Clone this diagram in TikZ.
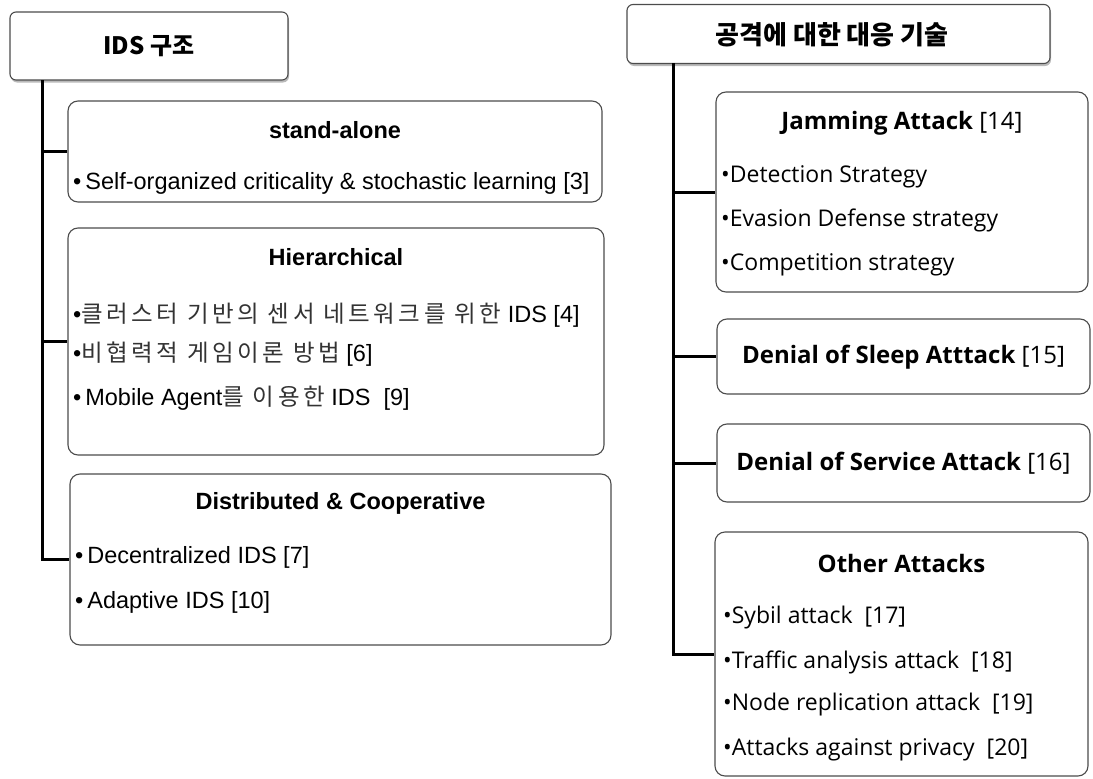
\documentclass[tikz,border=0pt]{standalone}
\usepackage{fontspec}
\setmainfont{Liberation Sans}
\newfontfamily\kr{Noto Sans CJK KR}
\newfontfamily\krs[LetterSpace=15]{Noto Sans CJK KR}
\newfontfamily\seg{Open Sans}
\usetikzlibrary{shadows}
\newcommand{\hk}[1]{{\krs\color{black!80}#1}}
\begin{document}
\begin{tikzpicture}[x=1pt,y=-1pt,
  box/.style={draw=black!70, line width=1.1pt, rounded corners=10pt, fill=white, inner sep=0pt},
  titlebox/.style={box, rounded corners=6pt, drop shadow={shadow xshift=1pt, shadow yshift=-2.5pt, opacity=0.45, fill=black!60}},
  conn/.style={draw=black, line width=3pt},
  lt/.style={font=\fontsize{23.5}{27}\selectfont\bfseries, inner sep=0pt},
  li/.style={font=\fontsize{23.5}{27}\selectfont, inner sep=0pt, anchor=west},
  rt/.style={font=\seg\fontsize{24}{28}\selectfont\bfseries, inner sep=0pt},
  ri/.style={font=\seg\fontsize{23}{27}\selectfont, inner sep=0pt, anchor=west}
]
\useasboundingbox (0,0) rectangle (1093,779);

% ---------- left column ----------
\node[titlebox, minimum width=278pt, minimum height=68pt] (tL) at (149,46) {};
\node[font=\kr\fontsize{24}{28}\selectfont\bfseries, inner sep=0pt] (tLt) at (149,46) {IDS 구조};

\node[box, minimum width=534pt, minimum height=101pt] (sa) at (335,151.5) {};
\node[lt] (saT) at (335,130) {stand-alone};
\node[li] (sa1) at (73,183) {•\,Self-organized criticality \& stochastic learning [3]};

\node[box, minimum width=536pt, minimum height=227pt] (hi) at (336,341.5) {};
\node[lt] (hiT) at (336,257) {Hierarchical};
\node[li] (hi1) at (73,315) {•\hk{클러스터 기반의 센서 네트워크를 위한} IDS [4]};
\node[li] (hi2) at (73,354) {•\hk{비협력적 게임이론 방법} [6]};
\node[li] (hi3) at (73,398) {•\,Mobile Agent\hk{를 이용한} IDS\ \ [9]};

\node[box, minimum width=541pt, minimum height=171pt] (di) at (340.5,559.5) {};
\node[lt] (diT) at (340.5,503) {Distributed \& Cooperative};
\node[li] (di1) at (75,557) {•\,Decentralized IDS [7]};
\node[li] (di2) at (75,602) {•\,Adaptive IDS [10]};

\coordinate (lv0) at (42,80);
\draw[conn] (lv0) |- (di.west);
\draw[conn] (sa.west -| lv0) -- (sa.west);
\draw[conn] (hi.west -| lv0) -- (hi.west);

% ---------- right column ----------
\node[titlebox, minimum width=423pt, minimum height=59pt] (tR) at (838.5,34) {};
\node[font=\kr\fontsize{26}{30}\selectfont\bfseries, inner sep=0pt] (tRt) at (832,35) {공격에 대한 대응 기술};

\node[box, minimum width=372pt, minimum height=200pt] (ja) at (902,192) {};
\node[rt] (jaT) at (902,123) {Jamming Attack {\mdseries [14]}};
\node[ri] (ja1) at (721,177) {•Detection Strategy};
\node[ri] (ja2) at (721,220) {•Evasion Defense strategy};
\node[ri] (ja3) at (721,265) {•Competition strategy};

\node[box, minimum width=373pt, minimum height=75pt] (sl) at (903.5,356.5) {};
\node[rt] (slT) at (903.5,357) {Denial of Sleep Atttack {\mdseries [15]}};

\node[box, minimum width=373pt, minimum height=78pt] (sv) at (903.5,463) {};
\node[rt] (svT) at (903.5,463) {Denial of Service Attack {\mdseries [16]}};

\node[box, minimum width=373pt, minimum height=244pt] (ot) at (901.5,654) {};
\node[rt] (otT) at (901.5,563) {Other Attacks};
\node[ri] (ot1) at (723,618) {•Sybil attack\ \ [17]};
\node[ri] (ot2) at (723,662) {•Traffic analysis attack\ \ [18]};
\node[ri] (ot3) at (723,705) {•Node replication attack\ \ [19]};
\node[ri] (ot4) at (723,750) {•Attacks against privacy\ \ [20]};

\coordinate (rv0) at (673,63);
\draw[conn] (rv0) |- (ot.west);
\draw[conn] (ja.west -| rv0) -- (ja.west);
\draw[conn] (sl.west -| rv0) -- (sl.west);
\draw[conn] (sv.west -| rv0) -- (sv.west);
\end{tikzpicture}
\end{document}
